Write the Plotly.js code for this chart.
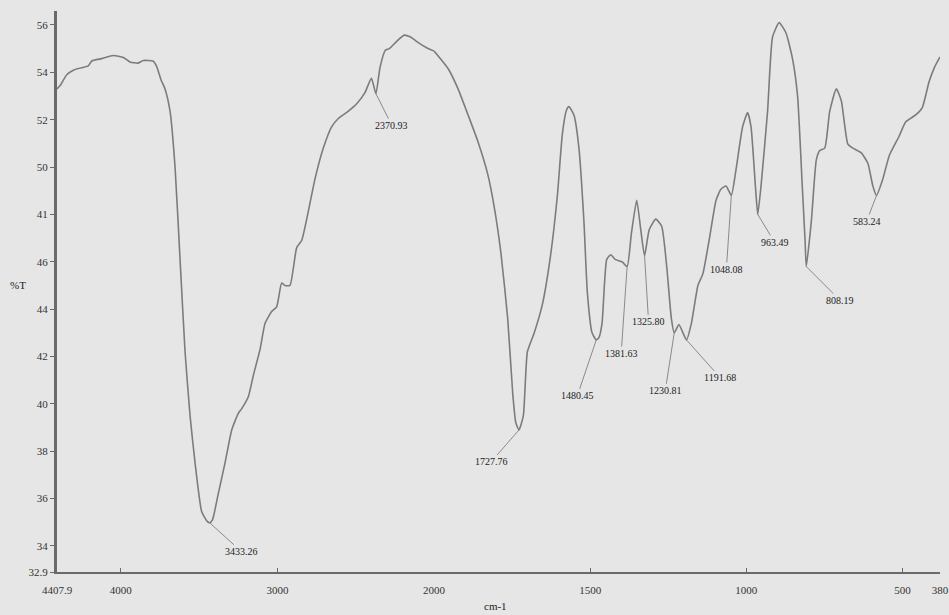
<!DOCTYPE html>
<html>
<head>
<meta charset="utf-8">
<script src="https://cdn.plot.ly/plotly-3.0.1.min.js"></script>
<style>
  html, body { margin: 0; padding: 0; background: #e6e6e6; }
  #chart { width: 949px; height: 615px; }
</style>
</head>
<body>
<div id="chart"></div>
<script>
// ---- data ----
const wavenumber = [
  4407.9, 4382, 4346, 4300, 4272, 4208, 4186, 4122, 4048, 3984, 3942, 3889, 3857, 3793, 3771,
  3744, 3718, 3686, 3654, 3622, 3590, 3558, 3526, 3484, 3450, 3433.26, 3415, 3378, 3335, 3292,
  3250, 3228, 3186, 3154, 3111, 3079, 3037, 3005, 2973, 2952, 2920, 2877, 2845, 2813, 2760,
  2707, 2654, 2611, 2547, 2494, 2441, 2400, 2370.93, 2345, 2310, 2285, 2240, 2190, 2153, 2120,
  2089, 2050, 2000,
  1955, 1923, 1891, 1860, 1828, 1807, 1786, 1764, 1748, 1738, 1727.76, 1714, 1701, 1679, 1653,
  1627, 1605, 1589, 1576, 1568, 1552, 1536, 1520, 1509, 1494, 1480.45, 1472, 1462, 1447, 1434,
  1420, 1398, 1381.63, 1368, 1351, 1338, 1325.80, 1311, 1290, 1271, 1255, 1240, 1230.81, 1216,
  1203, 1191.68, 1176, 1155, 1139, 1118, 1097, 1081, 1065, 1048.08, 1033, 1012, 996, 985, 970,
  963.49, 953, 932, 916, 895, 873, 852, 836, 821, 812, 808.19, 792, 776, 765, 749, 733, 712, 696,
  675, 659, 632, 611, 595, 583.24, 563, 542, 511, 490, 458, 437, 415, 398, 380
];
const transmittance = [
  53.3, 53.5, 53.9, 54.1, 54.16, 54.27, 54.48, 54.58, 54.71, 54.63, 54.44, 54.39, 54.5, 54.47, 54.24,
  53.69, 53.3, 52.36, 50.0, 46.1, 42.2, 39.5, 37.5, 35.45, 35.05, 34.98, 35.1, 36.2, 37.5, 38.9,
  39.6, 39.8, 40.3, 41.2, 42.3, 43.4, 43.9, 44.1, 45.1, 45.0, 45.0, 46.6, 46.9, 47.8, 49.5,
  50.8, 51.7, 52.05, 52.36, 52.67, 53.14, 53.75, 53.1, 54.2, 54.94, 55.0, 55.3, 55.57, 55.5, 55.35,
  55.2, 55.05, 54.9,
  54.16, 53.3, 52.2, 51.1, 49.7, 48.3, 46.4, 43.6, 40.45, 39.2, 38.9, 39.5, 42.2, 43.0, 44.2,
  46.25, 48.8, 51.4, 52.4, 52.55, 52.2, 50.8, 47.7, 44.7, 43.0, 42.7, 42.8, 43.4, 46.1, 46.3,
  46.1, 46.0, 45.8, 47.2, 48.6, 47.35, 46.25, 47.35, 47.8, 47.5, 45.8, 43.6, 43.0, 43.35,
  43.0, 42.7, 43.4, 45.0, 45.5, 47.0, 48.6, 49.07, 49.2, 48.8, 49.9, 51.7, 52.3, 51.7, 49.0,
  48.0, 49.2, 52.36, 55.5, 56.1, 55.66, 54.56, 53.0, 49.2, 46.9, 45.8, 47.7, 50.3, 50.7, 50.8, 52.36, 53.3, 52.8,
  50.97, 50.8, 50.6, 50.16, 49.2, 48.8, 49.5, 50.5, 51.3, 51.9, 52.2, 52.5, 53.6, 54.2, 54.65
];

// labelled peaks
const peakWavenumber = [3433.26, 2370.93, 1727.76, 1480.45, 1381.63, 1325.80, 1230.81, 1191.68, 1048.08, 963.49, 808.19, 583.24];
const peakTransmittance = [34.98, 53.1, 38.9, 42.7, 45.8, 46.25, 43.0, 42.7, 48.8, 48.0, 45.8, 48.8];
const peakLabel = ["3433.26", "2370.93", "1727.76", "1480.45", "1381.63", "1325.80", "1230.81", "1191.68", "1048.08", "963.49", "808.19", "583.24"];

// axis ticks
const yTickVals = [32.9, 34, 36, 38, 40, 42, 44, 46, 48, 50, 52, 54, 56];
const yTickText = ["32.9", "34", "36", "38", "40", "42", "44", "46", "41", "50", "52", "54", "56"];
const xLeftTickVals = [4407.9, 4000, 3000, 2000];
const xLeftTickText = ["4407.9", "4000", "3000", "2000"];
const xRightTickVals = [1500, 1000, 500, 380];
const xRightTickText = ["1500", "1000", "500", "380"];

// ---- label placement (pixel offsets of text from the marked point) ----
const labelOffsets = [
  [32, 29], [16, 32], [-28, 32], [-19, 56], [-6, 87], [4, 66],
  [-9, 58], [34, 38], [-5, 74], [17, 28], [34, 34], [-10, 26]
];

const split = 2000;
const leftX = [], leftY = [], rightX = [], rightY = [];
wavenumber.forEach((w, i) => {
  if (w >= split) { leftX.push(w); leftY.push(transmittance[i]); }
  if (w <= split) { rightX.push(w); rightY.push(transmittance[i]); }
});

const lineStyle = { color: '#7c7c7c', width: 1.6, shape: 'spline', smoothing: 0.5 };
const traces = [
  { x: leftX, y: leftY, xaxis: 'x', yaxis: 'y', type: 'scatter', mode: 'lines', line: lineStyle, hoverinfo: 'skip' },
  { x: rightX, y: rightY, xaxis: 'x2', yaxis: 'y', type: 'scatter', mode: 'lines', line: lineStyle, hoverinfo: 'skip' }
];

const serif = 'Liberation Serif, Times New Roman, serif';
const annotations = peakWavenumber.map((w, i) => ({
  x: w, y: peakTransmittance[i],
  xref: w >= split ? 'x' : 'x2', yref: 'y',
  text: peakLabel[i],
  showarrow: true, arrowhead: 0, arrowwidth: 1, arrowcolor: '#8a8a8a',
  standoff: 0, startstandoff: 0,
  ax: labelOffsets[i][0], ay: labelOffsets[i][1],
  font: { family: serif, size: 10, color: '#222' }
}));
annotations.push({
  xref: 'paper', yref: 'paper', x: -0.044, y: 0.512, text: '%T', showarrow: false,
  xanchor: 'center', yanchor: 'middle', font: { family: serif, size: 11, color: '#222' }
});
annotations.push({
  xref: 'paper', yref: 'paper', x: 0.497, y: -0.061, text: 'cm-1', showarrow: false,
  xanchor: 'center', yanchor: 'middle', font: { family: serif, size: 11, color: '#222' }
});

const split_frac = 377 / 883;
const xCommon = {
  showgrid: false, zeroline: false, showline: true, linecolor: '#6a6a6a', linewidth: 2,
  ticks: 'inside', ticklen: 4, tickcolor: '#6a6a6a', tickmode: 'array',
  ticklabeloverflow: 'allow', ticklabelstandoff: 7,
  tickfont: { family: serif, size: 11, color: '#333' }, anchor: 'y'
};

const layout = {
  width: 949, height: 615,
  margin: { l: 57, r: 9, t: 11, b: 43 },
  paper_bgcolor: '#e6e6e6', plot_bgcolor: '#e6e6e6',
  showlegend: false,
  xaxis: Object.assign({}, xCommon, {
    domain: [0, split_frac], range: [4407.9, 2000],
    tickvals: xLeftTickVals, ticktext: xLeftTickText
  }),
  xaxis2: Object.assign({}, xCommon, {
    domain: [split_frac, 1], range: [2000, 380],
    tickvals: xRightTickVals, ticktext: xRightTickText
  }),
  yaxis: {
    range: [32.9, 56.59], showgrid: false, zeroline: false,
    showline: true, linecolor: '#6a6a6a', linewidth: 3,
    ticks: 'outside', ticklen: 4, tickcolor: '#6a6a6a',
    tickmode: 'array', tickvals: yTickVals, ticktext: yTickText,
    tickfont: { family: serif, size: 11, color: '#333' }
  },
  annotations: annotations
};

Plotly.newPlot('chart', traces, layout, { staticPlot: true, displayModeBar: false });
</script>
</body>
</html>
